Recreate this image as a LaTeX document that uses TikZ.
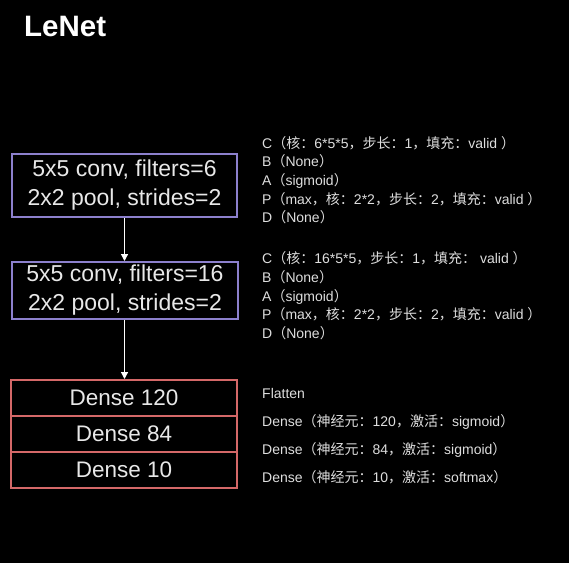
\documentclass[tikz,border=0pt]{standalone}
\usepackage{fontspec}
\setmainfont{Liberation Sans}
\newfontfamily\cjk{Noto Sans CJK SC}
\usetikzlibrary{arrows.meta}
\definecolor{convborder}{RGB}{140,128,205}
\definecolor{denseborder}{RGB}{212,104,104}
\definecolor{txtgray}{RGB}{232,232,232}
\definecolor{sidegray}{RGB}{222,222,222}
\tikzset{
  convbox/.style={draw=convborder, line width=2pt, fill=black, text=txtgray,
    minimum width=225pt, minimum height=63pt, inner sep=0pt, align=center,
    font=\fontsize{23}{29}\selectfont},
  densebox/.style={draw=denseborder, line width=2pt, fill=black, text=txtgray,
    minimum width=226pt, minimum height=36pt, inner sep=0pt,
    font=\fontsize{22.5}{26}\selectfont},
  sideline/.style={anchor=base west, inner sep=0pt, text=sidegray,
    font=\fontsize{14}{16}\selectfont},
  flowarrow/.style={draw=white, line width=1.2pt, -{Triangle[width=7pt,length=7pt]}},
}
\newcommand{\cz}[1]{{\cjk #1}}
\begin{document}
\begin{tikzpicture}[x=1pt,y=-1pt]
\useasboundingbox (0,0) rectangle (569,563);
\fill[black] (0,0) rectangle (569,563);
\node[anchor=base west, inner sep=0pt, text=white, font=\fontsize{29.5}{32}\selectfont\bfseries] (title) at (24,36) {LeNet};

\node[convbox, minimum height=63pt] (b1) at (124.5,185.5) {\raisebox{-2pt}{5x5 conv, filters=6}\\\raisebox{-2pt}{2x2 pool, strides=2}};
\node[convbox, minimum width=226pt, minimum height=57pt] (b2) at (125,290.5) {5x5 conv, filters=16\\2x2 pool, strides=2};

\node[densebox] (d1) at (124,398) {Dense 120};
\node[densebox] (d2) at (124,434) {Dense 84};
\node[densebox] (d3) at (124,470) {Dense 10};

\draw[flowarrow] (b1.south) -- (b1.south |- b2.north);
\draw[flowarrow] (b2.south -| b1.south) -- (b1.south |- d1.north);

\node[sideline] (s11) at (262,148) {C\cz{（核：}6*5*5\cz{，步长：}1\cz{，填充：}valid \cz{）}};
\node[sideline] (s12) at (262,166.5) {B\cz{（}None\cz{）}};
\node[sideline] (s13) at (262,185) {A\cz{（}sigmoid\cz{）}};
\node[sideline] (s14) at (262,204) {P\cz{（}max\cz{，核：}2*2\cz{，步长：}2\cz{，填充：}valid \cz{）}};
\node[sideline] (s15) at (262,222) {D\cz{（}None\cz{）}};

\node[sideline] (s21) at (262,263) {C\cz{（核：}16*5*5\cz{，步长：}1\cz{，填充：} valid \cz{）}};
\node[sideline] (s22) at (262,282) {B\cz{（}None\cz{）}};
\node[sideline] (s23) at (262,301) {A\cz{（}sigmoid\cz{）}};
\node[sideline] (s24) at (262,319) {P\cz{（}max\cz{，核：}2*2\cz{，步长：}2\cz{，填充：}valid \cz{）}};
\node[sideline] (s25) at (262,338) {D\cz{（}None\cz{）}};

\node[sideline] (s31) at (262,398) {Flatten};
\node[sideline] (s32) at (262,426) {Dense\cz{（神经元：}120\cz{，激活：}sigmoid\cz{）}};
\node[sideline] (s33) at (262,454) {Dense\cz{（神经元：}84\cz{，激活：}sigmoid\cz{）}};
\node[sideline] (s34) at (262,482) {Dense\cz{（神经元：}10\cz{，激活：}softmax\cz{）}};
\end{tikzpicture}
\end{document}
